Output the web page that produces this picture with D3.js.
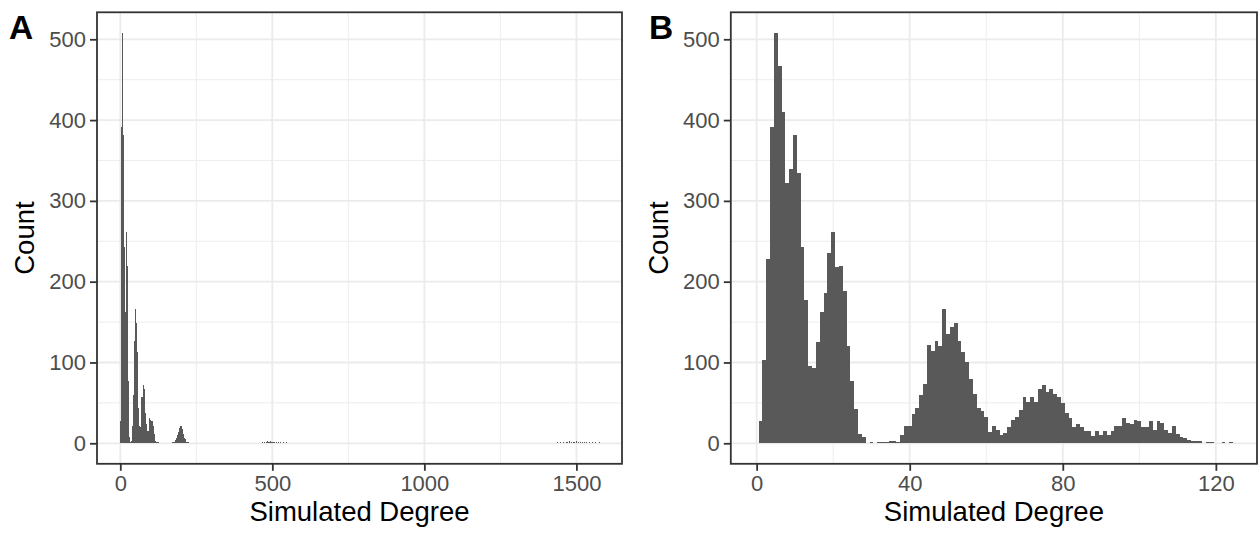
<!DOCTYPE html>
<html>
<head>
<meta charset="utf-8">
<script src="https://cdn.jsdelivr.net/npm/d3@7"></script>
<style>
  body { margin: 0; background: #fff; }
  svg { display: block; font-family: 'Liberation Sans', Arial, sans-serif; }
</style>
</head>
<body>
<div id="chart"></div>
<script>
// counts for degree 0..124 (one bin per degree)
var lowCounts = [
    0, 27, 103, 228, 392, 508, 467, 410, 322, 340,
    382, 334, 243, 177, 96, 93, 125, 162, 186, 235,
    261, 218, 220, 189, 120, 77, 42, 11, 8, 0,
    1, 0, 1, 1, 1, 3, 3, 1, 10, 21,
    21, 36, 44, 60, 73, 122, 114, 127, 121, 166,
    135, 144, 149, 127, 113, 100, 80, 61, 44, 40,
    32, 14, 21, 16, 10, 13, 20, 29, 32, 41,
    57, 51, 57, 51, 67, 72, 63, 67, 61, 57,
    50, 37, 31, 20, 24, 20, 15, 15, 9, 15,
    10, 15, 10, 15, 22, 22, 31, 25, 24, 29,
    28, 20, 20, 28, 16, 27, 25, 16, 13, 21,
    11, 8, 6, 4, 3, 3, 3, 0, 1, 1,
    0, 0, 1, 0, 1
]

// higher degrees, only in panel A
var tailDegrees = [
    169, 174, 178, 179, 180, 181, 182, 183, 184, 185, 186, 187, 188, 189,
    190, 191, 192, 193, 194, 195, 196, 197, 198, 199, 200, 201, 202, 203,
    204, 205, 206, 207, 208, 209, 210, 211, 212, 213, 214, 215, 216, 217,
    218, 219, 221, 223,
    468, 474, 479, 483, 485, 487, 490, 492, 496, 499, 503, 507, 512, 518, 526, 534, 545,
    1437, 1446, 1458, 1466, 1471, 1477, 1482, 1488, 1494, 1499, 1505, 1511,
    1518, 1524, 1533, 1541, 1552, 1563, 1575
]
var tailCounts = [
    1, 1, 1, 2, 2, 3, 4, 5, 6, 6, 8, 9, 10, 12,
    11, 14, 15, 17, 16, 19, 18, 22, 20, 21, 19, 17, 18, 15,
    14, 12, 11, 9, 10, 7, 6, 5, 5, 4, 3, 2, 2, 1,
    1, 1, 1, 1,
    1, 1, 2, 3, 2, 1, 2, 3, 2, 1, 2, 1, 1, 2, 1, 1, 1,
    1, 1, 2, 1, 2, 3, 2, 1, 2, 3, 1, 2,
    1, 2, 1, 1, 1, 1, 1
]

var yTicks = [0, 100, 200, 300, 400, 500]
var yMinor = [50, 150, 250, 350, 450]
var xTicksA = [0, 500, 1000, 1500]
var xMinorA = [250, 750, 1250]
var xTicksB = [0, 40, 80, 120]
var xMinorB = [20, 60, 100]

var lowBins = lowCounts.map(function(c, i) { return { deg: i, count: c } })
var allBins = lowBins.concat(tailDegrees.map(function(d, i) {
    return { deg: d, count: tailCounts[i] }
}))

var width = 1258
var height = 536

var svg = d3.select('#chart').append('svg')
    .attr('width', width)
    .attr('height', height)

var y = d3.scaleLinear()
    .domain([-25.4, 533.4])
    .range([463.8, 12.3])

function panel(opts) {
    var x = d3.scaleLinear()
        .domain(opts.domain)
        .range([opts.left, opts.right])

    var g = svg.append('g')

    // grid
    g.append('g').selectAll('line')
        .data(opts.xMinor).enter().append('line')
        .attr('x1', function(d) { return x(d) }).attr('x2', function(d) { return x(d) })
        .attr('y1', y.range()[0]).attr('y2', y.range()[1])
        .attr('stroke', '#ebebeb').attr('stroke-width', 0.9)
    g.append('g').selectAll('line')
        .data(yMinor).enter().append('line')
        .attr('x1', opts.left).attr('x2', opts.right)
        .attr('y1', function(d) { return y(d) }).attr('y2', function(d) { return y(d) })
        .attr('stroke', '#ebebeb').attr('stroke-width', 0.9)
    g.append('g').selectAll('line')
        .data(opts.xTicks).enter().append('line')
        .attr('x1', function(d) { return x(d) }).attr('x2', function(d) { return x(d) })
        .attr('y1', y.range()[0]).attr('y2', y.range()[1])
        .attr('stroke', '#ebebeb').attr('stroke-width', 1.8)
    g.append('g').selectAll('line')
        .data(yTicks).enter().append('line')
        .attr('x1', opts.left).attr('x2', opts.right)
        .attr('y1', function(d) { return y(d) }).attr('y2', function(d) { return y(d) })
        .attr('stroke', '#ebebeb').attr('stroke-width', 1.8)

    // bars
    var bw = x(1) - x(0)
    g.append('g')
        .attr('shape-rendering', 'crispEdges')
        .selectAll('rect')
        .data(opts.bins.filter(function(d) { return d.count > 0 }))
        .enter().append('rect')
        .attr('x', function(d) { return x(d.deg - 0.5) })
        .attr('width', Math.max(bw, 1))
        .attr('y', function(d) { return y(d.count) })
        .attr('height', function(d) { return y(0) - y(d.count) })
        .attr('fill', '#595959')

    // border
    g.append('rect')
        .attr('x', opts.left).attr('y', y.range()[1])
        .attr('width', opts.right - opts.left)
        .attr('height', y.range()[0] - y.range()[1])
        .attr('fill', 'none')
        .attr('stroke', '#333333')
        .attr('stroke-width', 1.8)

    // axes
    var xAxis = g.append('g')
        .attr('transform', 'translate(0,' + y.range()[0] + ')')
        .call(d3.axisBottom(x).tickValues(opts.xTicks).tickFormat(d3.format('d'))
            .tickSize(7).tickPadding(5))
    var yAxis = g.append('g')
        .attr('transform', 'translate(' + opts.left + ',0)')
        .call(d3.axisLeft(y).tickValues(yTicks).tickFormat(d3.format('d'))
            .tickSize(7).tickPadding(4))

    ;[xAxis, yAxis].forEach(function(a) {
        a.select('.domain').remove()
        a.selectAll('line').attr('stroke', '#333333').attr('stroke-width', 1.8)
        a.selectAll('text')
            .attr('fill', '#4d4d4d')
            .style('font-size', '22px')
            .style('font-family', "'Liberation Sans', Arial, sans-serif")
    })
    xAxis.selectAll('text').attr('dy', null).attr('y', 27.2)

    // titles
    svg.append('text')
        .attr('x', (opts.left + opts.right) / 2)
        .attr('y', 521)
        .attr('text-anchor', 'middle')
        .style('font-size', '27.5px')
        .text('Simulated Degree')

    svg.append('text')
        .attr('transform', 'translate(' + (opts.left - 63) + ',' + ((y.range()[0] + y.range()[1]) / 2) + ') rotate(-90)')
        .attr('text-anchor', 'middle')
        .style('font-size', '27.5px')
        .text('Count')

    svg.append('text')
        .attr('x', opts.labelX)
        .attr('y', 38.5)
        .style('font-size', '33.5px')
        .style('font-weight', 'bold')
        .text(opts.label)
}

panel({
    label: 'A', labelX: 9,
    left: 97, right: 622,
    domain: [-76.6, 1650],
    bins: allBins,
    xTicks: xTicksA, xMinor: xMinorA
})

panel({
    label: 'B', labelX: 649,
    left: 730.8, right: 1257,
    domain: [-6.75, 130.75],
    bins: lowBins,
    xTicks: xTicksB, xMinor: xMinorB
})
</script>
</body>
</html>
